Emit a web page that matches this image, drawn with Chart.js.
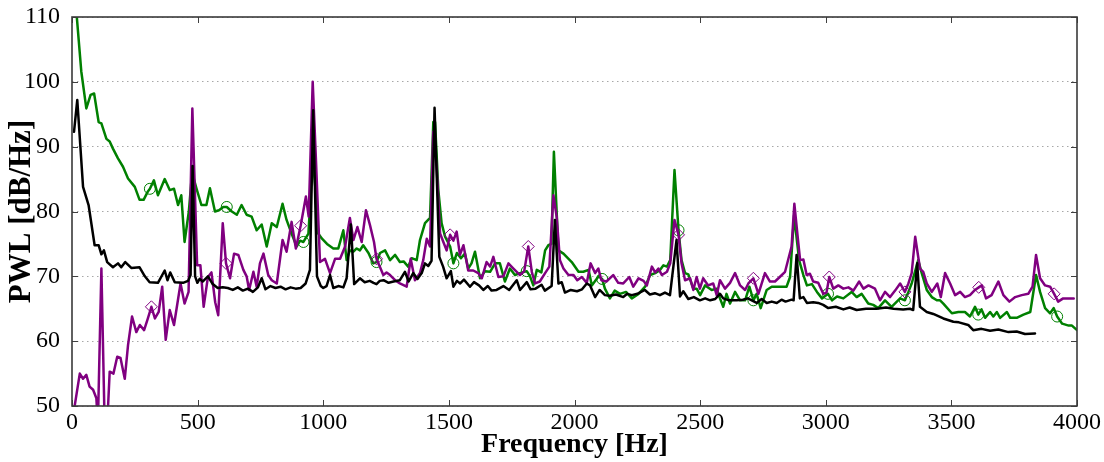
<!DOCTYPE html>
<html>
<head>
<meta charset="utf-8">
<script src="https://cdn.jsdelivr.net/npm/chart.js@4.4.1/dist/chart.umd.min.js"></script>
<style>
  html, body { margin: 0; padding: 0; background: #fff; }
  #wrap { width: 1104px; height: 462px; }
</style>
</head>
<body>
<div id="wrap"><canvas id="pwlChart" width="1104" height="462"></canvas></div>
<script>
// frequency axis / level axis ticks
const xTicks = [0, 500, 1000, 1500, 2000, 2500, 3000, 3500, 4000];
const yTicks = [50, 60, 70, 80, 90, 100, 110];

// black series (no markers)
const blackHz = [8, 21, 44, 66, 90, 106, 117, 127, 140, 163, 183, 196, 212, 236, 269, 290, 309, 342, 369, 380, 391, 409, 442, 462, 472, 480, 490, 499, 508, 520, 541, 560, 580, 600, 620, 640, 660, 680, 700, 720, 740, 755, 770, 790, 810, 830, 850, 870, 890, 910, 930, 947, 960, 975, 990, 1000, 1013, 1027, 1040, 1060, 1080, 1093, 1110, 1123, 1146, 1165, 1185, 1200, 1212, 1225, 1240, 1260, 1280, 1305, 1325, 1340, 1358, 1375, 1392, 1405, 1418, 1431, 1443, 1462, 1477, 1491, 1508, 1518, 1532, 1545, 1560, 1584, 1600, 1620, 1637, 1655, 1670, 1690, 1717, 1740, 1770, 1783, 1810, 1825, 1845, 1869, 1882, 1909, 1922, 1936, 1949, 1962, 1985, 2010, 2030, 2049, 2062, 2082, 2100, 2121, 2140, 2165, 2194, 2210, 2228, 2250, 2280, 2300, 2320, 2340, 2360, 2380, 2406, 2420, 2433, 2453, 2475, 2499, 2520, 2540, 2560, 2579, 2592, 2615, 2645, 2670, 2690, 2725, 2745, 2765, 2785, 2805, 2824, 2840, 2864, 2872, 2884, 2897, 2911, 2925, 2950, 2970, 2990, 3010, 3040, 3070, 3095, 3123, 3160, 3202, 3240, 3270, 3308, 3335, 3348, 3364, 3375, 3402, 3428, 3468, 3508, 3530, 3567, 3587, 3620, 3654, 3687, 3727, 3760, 3793, 3833];
const blackDb = [92.3, 97.2, 83.8, 81, 74.8, 74.8, 73.4, 74, 72.2, 71.4, 72, 71.4, 72.2, 71.3, 71.4, 70, 69.1, 69, 70.9, 69.4, 70.6, 69.1, 69, 69.3, 70.2, 87, 70, 69, 69.6, 69.2, 70, 68.8, 68.2, 68.3, 68.2, 67.9, 68.3, 67.8, 68.1, 67.6, 68.3, 69.7, 68, 68.5, 68.2, 68.4, 68, 68.3, 68.1, 68.2, 68.9, 71, 95.6, 70, 68.5, 68.2, 68.5, 70.2, 68.2, 68.5, 68.3, 69.7, 78, 68.8, 69.7, 69.1, 69.3, 69, 68.8, 69.3, 69.4, 69, 69.2, 69.4, 70.7, 69.2, 70.5, 69.6, 70.5, 72, 71.6, 72.4, 96, 73, 71.5, 69.7, 70.8, 68.4, 69.3, 68.9, 69.5, 68.4, 69.1, 68.6, 67.9, 68.5, 67.8, 67.9, 68.5, 67.9, 69.4, 67.9, 69.1, 68, 68.1, 68.7, 67.8, 68.5, 78.7, 68.9, 69.1, 67.5, 67.9, 67.7, 68, 68.9, 68.6, 66.8, 67.9, 67.1, 67, 67.2, 66.8, 67.3, 67.1, 67.3, 67.9, 67.2, 67.4, 67.1, 67.5, 67.1, 75.6, 66.9, 67.7, 66.5, 66.8, 66.3, 66.6, 66.3, 66.5, 67.3, 66.6, 66.3, 66.3, 66.4, 66.6, 65.9, 66.5, 65.9, 66.1, 65.9, 66.4, 66.1, 66.4, 66.3, 73.3, 66.6, 66.8, 65.9, 66, 65.9, 65.6, 65.1, 65.3, 64.9, 65.2, 64.8, 65, 65, 65.2, 65, 64.9, 65, 64.8, 72, 65.3, 64.5, 64.2, 63.5, 63, 62.9, 62.5, 61.7, 61.9, 61.6, 61.8, 61.4, 61.5, 61.1, 61.2];

// green series (open circles)
const greenHz = [17, 37, 57, 74, 88, 106, 117, 137, 150, 163, 183, 203, 223, 250, 269, 285, 302, 310, 326, 342, 369, 389, 406, 422, 435, 448, 465, 478, 495, 515, 535, 549, 569, 585, 602, 616, 636, 656, 675, 695, 715, 735, 755, 775, 795, 815, 838, 854, 874, 894, 908, 921, 941, 958, 968, 980, 995, 1015, 1040, 1060, 1080, 1093, 1106, 1120, 1133, 1146, 1159, 1180, 1199, 1212, 1226, 1246, 1266, 1286, 1305, 1320, 1338, 1352, 1372, 1385, 1405, 1425, 1438, 1445, 1458, 1471, 1485, 1505, 1518, 1532, 1548, 1564, 1577, 1590, 1604, 1624, 1644, 1664, 1684, 1703, 1723, 1743, 1763, 1783, 1810, 1823, 1836, 1850, 1868, 1883, 1896, 1908, 1918, 1936, 1956, 1989, 2016, 2035, 2056, 2069, 2096, 2110, 2121, 2141, 2160, 2181, 2205, 2228, 2255, 2281, 2301, 2321, 2341, 2354, 2368, 2381, 2398, 2414, 2426, 2440, 2453, 2473, 2486, 2500, 2520, 2546, 2566, 2579, 2592, 2605, 2619, 2639, 2659, 2679, 2696, 2712, 2725, 2741, 2765, 2785, 2805, 2844, 2858, 2874, 2894, 2911, 2925, 2945, 2965, 2985, 3009, 3025, 3045, 3070, 3103, 3123, 3143, 3169, 3189, 3209, 3236, 3262, 3296, 3315, 3329, 3342, 3368, 3382, 3402, 3422, 3442, 3455, 3468, 3502, 3528, 3554, 3574, 3594, 3607, 3620, 3634, 3654, 3667, 3681, 3694, 3721, 3734, 3760, 3787, 3814, 3837, 3853, 3873, 3893, 3907, 3921, 3941, 3967, 3980, 4000];
const greenDb = [111, 101.6, 95.9, 98, 98.2, 93.8, 93.6, 91.2, 90.8, 89.7, 88.2, 86.9, 85.1, 83.8, 81.8, 81.8, 83.1, 83.5, 84.8, 82.5, 85, 83.3, 83.5, 81, 82.5, 75.3, 80, 86, 83.6, 81, 81, 83.6, 80, 80.2, 80.7, 80.7, 80, 79.5, 81, 79.5, 79.2, 77.1, 78, 74.6, 78.2, 77.6, 81.2, 78.7, 76.6, 74.6, 75.5, 75.3, 76.6, 88, 84, 76.6, 75.8, 75, 74.3, 74.3, 77.1, 72.5, 74, 73.8, 74.3, 74, 74.8, 73.6, 72, 72.2, 73.6, 74, 72.5, 73.3, 72.2, 72.3, 71.5, 72.8, 72.5, 75.6, 78.2, 79, 93.8, 93.8, 83.3, 78.2, 76.1, 74.6, 72, 73.6, 72.8, 73.5, 71.2, 72, 73.8, 69.7, 70.8, 70.7, 72, 72, 69.2, 71.2, 70.2, 70.5, 70.8, 70, 68.6, 71, 70.6, 74, 74.8, 75, 89.2, 74, 73.5, 72.2, 70.7, 70.7, 71, 68.6, 70, 69.6, 68.1, 66.6, 67.8, 67.3, 67.6, 66.6, 67.3, 68.4, 70.2, 70.5, 71, 71.7, 71.5, 72.5, 86.4, 77.1, 72.5, 70.5, 70.3, 68.1, 68.1, 67.1, 68.6, 67.9, 68.1, 66.6, 65.3, 67.3, 65.8, 67.6, 66.3, 66.3, 68.4, 66.3, 67.3, 65.1, 67.9, 68.4, 68.4, 68.4, 69.9, 79.4, 72.5, 70.2, 68.6, 68.8, 67.6, 66.6, 67.3, 66.3, 66.9, 66.6, 67.6, 66.8, 67.3, 65.8, 65.6, 65.1, 66.3, 65.3, 66.6, 66.3, 67.6, 68.9, 72.5, 70.5, 67.9, 66.8, 66.3, 66.3, 65.8, 64.3, 64.5, 64.5, 63.8, 65.3, 64.1, 64.9, 63.6, 64.5, 63.8, 64.5, 63.6, 64.5, 63.6, 63.6, 64.1, 64.5, 70.2, 67.6, 65.1, 64.3, 65.1, 63.8, 62.7, 62.4, 62.4, 61.7];
const greenMarks = [310, 616, 921, 1212, 1518, 1810, 2110, 2414, 2712, 3009, 3315, 3607, 3921];

// purple series (open diamonds)
const purpleHz = [11, 31, 44, 57, 70, 84, 97, 103, 117, 130, 140, 150, 165, 180, 193, 210, 223, 239, 256, 270, 287, 302, 316, 330, 345, 359, 373, 389, 406, 432, 448, 464, 479, 498, 511, 524, 541, 555, 570, 582, 600, 613, 629, 645, 662, 682, 695, 705, 722, 735, 748, 762, 781, 795, 815, 838, 854, 874, 891, 910, 931, 942, 958, 971, 987, 1007, 1027, 1047, 1067, 1087, 1106, 1120, 1136, 1153, 1170, 1186, 1202, 1212, 1239, 1252, 1266, 1286, 1305, 1332, 1348, 1365, 1385, 1398, 1412, 1425, 1438, 1452, 1465, 1478, 1491, 1505, 1518, 1531, 1544, 1558, 1577, 1597, 1617, 1631, 1650, 1664, 1677, 1697, 1717, 1737, 1757, 1783, 1800, 1816, 1830, 1843, 1862, 1883, 1900, 1916, 1929, 1942, 1956, 1976, 1996, 2011, 2029, 2049, 2064, 2082, 2095, 2107, 2127, 2154, 2174, 2194, 2218, 2234, 2255, 2275, 2288, 2308, 2321, 2334, 2348, 2368, 2381, 2398, 2414, 2426, 2440, 2460, 2473, 2486, 2499, 2512, 2532, 2552, 2566, 2579, 2599, 2619, 2639, 2659, 2679, 2692, 2712, 2732, 2758, 2778, 2798, 2817, 2838, 2864, 2875, 2887, 2898, 2911, 2924, 2937, 2950, 2970, 2990, 3003, 3014, 3030, 3050, 3070, 3090, 3110, 3133, 3150, 3170, 3196, 3216, 3236, 3256, 3276, 3296, 3315, 3329, 3342, 3356, 3375, 3388, 3402, 3422, 3444, 3458, 3475, 3495, 3515, 3535, 3554, 3574, 3594, 3609, 3621, 3638, 3660, 3687, 3707, 3731, 3754, 3780, 3806, 3823, 3837, 3853, 3873, 3893, 3909, 3925, 3945, 3967, 3987];
const purpleDb = [50.1, 55, 54.2, 54.8, 53, 52.5, 51.2, 47, 71.2, 47, 47, 55.3, 55, 57.6, 57.4, 54.2, 59.4, 63.8, 61.4, 62.5, 61.7, 63.5, 65.3, 63.5, 64.5, 68.4, 60.2, 64.8, 62.5, 68.9, 65.8, 67.6, 95.9, 71.7, 71.7, 65.3, 69.9, 70.6, 66, 64, 78.2, 72, 69.7, 73.5, 73.3, 71, 70, 67.9, 70.7, 68.4, 72, 73.5, 70.2, 69.4, 68.9, 75.6, 73.8, 78.4, 74.3, 77.8, 82.3, 79.2, 100, 87.9, 72.2, 72.7, 70.5, 72.7, 72.7, 74.6, 79, 75.6, 77.6, 75.3, 80.2, 77.9, 75.3, 72.7, 70.2, 70.6, 70.2, 69.4, 68.9, 68.4, 72.7, 69.4, 70.5, 72.5, 75.8, 74.6, 92.3, 86.4, 76.6, 75.3, 74, 76.4, 75.5, 76.9, 73.3, 74.8, 70.9, 70.9, 70.5, 69.7, 72.2, 71.5, 73, 69.9, 70, 72, 71.2, 70.2, 70.8, 74.6, 70.7, 68.9, 69.2, 70.5, 71.5, 82.5, 79.2, 72.5, 71.2, 70.2, 70.2, 69.4, 69.9, 69, 72, 70.5, 71.2, 69.4, 69.2, 70.2, 69, 68.9, 69.9, 68.4, 69.7, 69.3, 68.6, 71.5, 70.6, 71.2, 70.2, 70.7, 72, 78.7, 76.4, 72, 69.4, 69.7, 67.9, 69.9, 68.1, 69.7, 68.6, 68.9, 67.1, 69.4, 68.1, 69, 70.5, 68.6, 67.9, 68.9, 69.7, 67.3, 70.5, 69.2, 69.2, 69.9, 70.7, 74.6, 81.2, 76.6, 72.5, 72.6, 70.2, 70.4, 69.2, 69, 67.3, 67.5, 69.9, 68.1, 68.6, 68.1, 68.3, 67.8, 69.2, 68.1, 68.6, 68.1, 66.3, 67.6, 66.8, 67.8, 68.9, 67.6, 68.9, 70.5, 76.1, 71.2, 70.7, 68.9, 67.6, 68.9, 66.8, 70.5, 68.9, 67.1, 67.6, 66.8, 67.1, 67.9, 68.3, 68.6, 66.6, 67.1, 69.2, 67.1, 66.1, 66.8, 67.1, 67.3, 68.4, 73.3, 69.7, 68.6, 68.4, 67.3, 66.1, 66.6, 66.6, 66.6];
const purpleMarks = [316, 613, 910, 1212, 1505, 1816, 2414, 2712, 3014, 3315, 3609, 3909];

const toPoints = (hz, db) => hz.map((f, i) => ({ x: f, y: db[i] }));
const serif = "'Liberation Serif', 'DejaVu Serif', serif";

// inward tick marks on all four sides plus the frame
const frameTicks = {
  id: "frameTicks",
  afterDatasetsDraw(chart) {
    const { ctx, chartArea: a, scales } = chart;
    ctx.save();
    ctx.strokeStyle = "#404040";
    ctx.lineWidth = 1;
    ctx.beginPath();
    xTicks.forEach((v) => {
      const px = Math.round(scales.x.getPixelForValue(v)) + 0.5;
      ctx.moveTo(px, a.bottom); ctx.lineTo(px, a.bottom - 6);
      ctx.moveTo(px, a.top); ctx.lineTo(px, a.top + 6);
    });
    yTicks.forEach((v) => {
      const py = Math.round(scales.y.getPixelForValue(v)) + 0.5;
      ctx.moveTo(a.left, py); ctx.lineTo(a.left + 6, py);
      ctx.moveTo(a.right, py); ctx.lineTo(a.right - 6, py);
    });
    ctx.stroke();
    ctx.lineWidth = 1.6;
    ctx.strokeStyle = "#3a3a3a";
    ctx.strokeRect(a.left, a.top, a.right - a.left, a.bottom - a.top);
    ctx.restore();
  }
};

const markRadius = (marks, r) => (c) => (c.raw && marks.includes(c.raw.x) ? r : 0);

const canvas = document.getElementById("pwlChart");
new Chart(canvas, {
  type: "line",
  data: {
    datasets: [
      {
        label: "black",
        data: toPoints(blackHz, blackDb),
        borderColor: "#000000",
        borderWidth: 2.5,
        pointRadius: 0,
        tension: 0
      },
      {
        label: "purple",
        data: toPoints(purpleHz, purpleDb),
        borderColor: "#800080",
        borderWidth: 2.5,
        pointStyle: "rectRot",
        pointRadius: markRadius(purpleMarks, 6),
        pointHoverRadius: markRadius(purpleMarks, 6),
        pointBorderColor: "#800080",
        pointBackgroundColor: "rgba(0,0,0,0)",
        pointBorderWidth: 1,
        tension: 0
      },
      {
        label: "green",
        data: toPoints(greenHz, greenDb),
        borderColor: "#008000",
        borderWidth: 2.5,
        pointStyle: "circle",
        pointRadius: markRadius(greenMarks, 5.5),
        pointHoverRadius: markRadius(greenMarks, 5.5),
        pointBorderColor: "#008000",
        pointBackgroundColor: "rgba(0,0,0,0)",
        pointBorderWidth: 1,
        tension: 0
      }
    ]
  },
  options: {
    responsive: false,
    animation: false,
    events: [],
    layout: { padding: { top: 17, right: 27, left: 0, bottom: 0 } },
    elements: { line: { borderJoinStyle: "round", borderCapStyle: "round" } },
    plugins: { legend: { display: false }, tooltip: { enabled: false } },
    scales: {
      x: {
        type: "linear",
        min: 0,
        max: 4000,
        afterFit: (s) => { s.height = 56; s.paddingLeft = 0; s.paddingRight = 0; },
        afterBuildTicks: (s) => { s.ticks = xTicks.map((v) => ({ value: v })); },
        ticks: { color: "#000", font: { family: serif, size: 24 }, padding: 2, maxRotation: 0, autoSkip: false, callback: (v) => String(v) },
        grid: { display: false, drawTicks: false },
        border: { display: false },
        title: { display: true, text: "Frequency [Hz]", color: "#000", font: { family: serif, size: 28, weight: "bold" }, padding: { top: 0, bottom: 0 } }
      },
      y: {
        min: 50,
        max: 110,
        afterFit: (s) => { s.width = 72; s.paddingTop = 0; s.paddingBottom = 0; },
        afterBuildTicks: (s) => { s.ticks = yTicks.map((v) => ({ value: v })); },
        ticks: { color: "#000", font: { family: serif, size: 24 }, padding: 12, autoSkip: false, callback: (v) => String(v) },
        grid: { color: "#a8a8a8", lineWidth: 1, drawTicks: false },
        border: { display: false, dash: [1.5, 3.5] },
        title: { display: true, text: "PWL [dB/Hz]", color: "#000", font: { family: serif, size: 31, weight: "bold" }, padding: { top: 3, bottom: 4 } }
      }
    }
  },
  plugins: [frameTicks]
});
</script>
</body>
</html>
